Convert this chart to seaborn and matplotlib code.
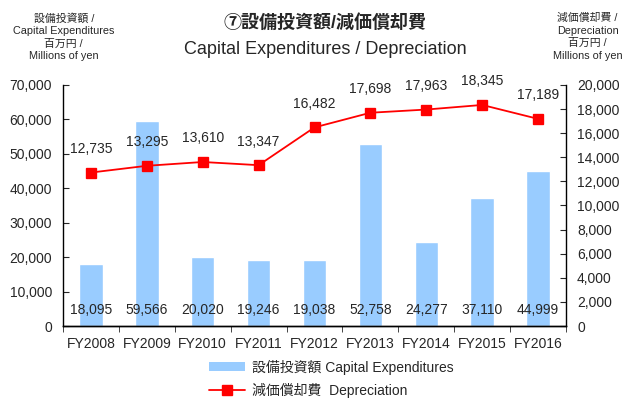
import matplotlib
matplotlib.use("Agg")
import matplotlib.pyplot as plt
import matplotlib.ticker as mticker
from matplotlib.lines import Line2D
from matplotlib.patches import Patch
import seaborn as sns
import pandas as pd
import numpy as np

# データ
years = ["FY2008", "FY2009", "FY2010", "FY2011", "FY2012",
         "FY2013", "FY2014", "FY2015", "FY2016"]
capex = [18095, 59566, 20020, 19246, 19038, 52758, 24277, 37110, 44999]
depreciation = [12735, 13295, 13610, 13347, 16482, 17698, 17963, 18345, 17189]

df = pd.DataFrame({"year": years, "capex": capex, "dep": depreciation})

sns.set_style("white")
plt.rcParams["font.family"] = ["Liberation Sans", "Noto Sans CJK JP", "DejaVu Sans"]

fig = plt.figure(figsize=(6.25, 4.0), dpi=100)
ax = fig.add_axes([0.1008, 0.185, 0.8048, 0.6025])

bar_color = "#99CCFF"
sns.barplot(data=df, x="year", y="capex", color=bar_color, width=0.42,
            saturation=1, ax=ax)
ax.set_ylim(0, 70000)
ax.set_xlim(-0.5, len(years) - 0.5)
ax.yaxis.set_major_locator(mticker.MultipleLocator(10000))
ax.yaxis.set_major_formatter(mticker.StrMethodFormatter("{x:,.0f}"))

# 棒グラフのラベル（下部）
for i, v in enumerate(capex):
    ax.annotate(f"{v:,}", xy=(i, 0), xytext=(0, 11.5), textcoords="offset points",
                ha="center", va="center", fontsize=10)

ax2 = ax.twinx()
sns.pointplot(data=df, x="year", y="dep", color="#FF0000", markers="s",
              linestyles="-", ax=ax2, markersize=7, linewidth=1.3)
ax2.set_ylim(0, 20000)
ax2.set_xlim(-0.5, len(years) - 0.5)
ax2.yaxis.set_major_locator(mticker.MultipleLocator(2000))
ax2.yaxis.set_major_formatter(mticker.StrMethodFormatter("{x:,.0f}"))

for i, v in enumerate(depreciation):
    ax2.annotate(f"{v:,}", xy=(i, v), xytext=(0, 17), textcoords="offset points",
                 ha="center", va="center", fontsize=10)

# 軸の体裁
for a in (ax, ax2):
    a.set_xlabel("")
    a.set_ylabel("")
    a.spines["top"].set_visible(False)
    for s in a.spines.values():
        s.set_color("black")
        s.set_linewidth(1.0)
ax.spines["right"].set_visible(False)
ax2.spines["left"].set_visible(False)

ax.tick_params(axis="y", direction="in", length=4, labelsize=10, left=True, pad=8)
ax2.tick_params(axis="y", direction="in", length=4, labelsize=10, right=True, pad=8)
ax.tick_params(axis="x", which="major", length=0, labelsize=10, pad=8)
ax.set_xticks(np.arange(-0.5, len(years), 1), minor=True)
ax.tick_params(axis="x", which="minor", direction="out", length=4, bottom=True)
ax2.tick_params(axis="x", which="both", length=0)

# タイトル
fig.text(0.52, 0.943, "⑦設備投資額/減価償却費", ha="center", va="center",
         fontsize=13, fontweight="bold")
fig.text(0.52, 0.877, "Capital Expenditures / Depreciation", ha="center",
         va="center", fontsize=13)

fig.text(0.102, 0.908, "設備投資額 /\nCapital Expenditures\n百万円 /\nMillions of yen",
         ha="center", va="center", fontsize=7.8, linespacing=1.3)
fig.text(0.94, 0.908, "減価償却費 /\nDepreciation\n百万円 /\nMillions of yen",
         ha="center", va="center", fontsize=7.8, linespacing=1.3)

# 凡例
handles = [Patch(facecolor=bar_color, edgecolor="none"),
           Line2D([0], [0], color="#FF0000", marker="s", markersize=7, linewidth=1.3)]
labels = ["設備投資額 Capital Expenditures", "減価償却費  Depreciation"]
fig.legend(handles, labels, loc="center", bbox_to_anchor=(0.53, 0.053), ncol=1,
           frameon=False, fontsize=10, handlelength=2.6, handleheight=0.6,
           labelspacing=0.6, handletextpad=0.5)

fig.savefig("out.png", dpi=100)
